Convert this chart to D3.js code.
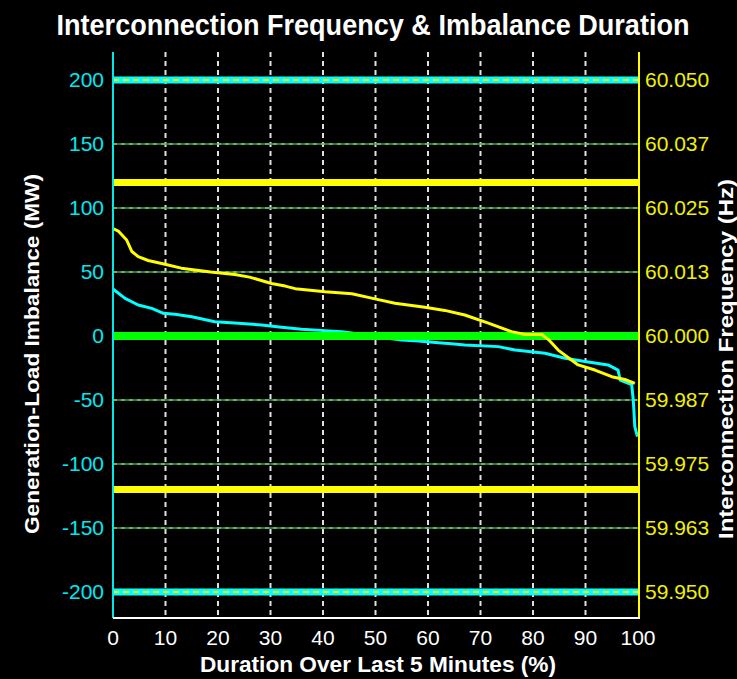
<!DOCTYPE html>
<html><head><meta charset="utf-8">
<script src="https://cdn.jsdelivr.net/npm/d3@7"></script>
<style>html,body{margin:0;padding:0;background:#000;}svg{display:block;}</style>
</head><body>
<script>
// ---- data ----
const xTicks = [0,10,20,30,40,50,60,70,80,90,100];
const mwTicks = [200,150,100,50,0,-50,-100,-150,-200];
const hzTickLabels = ["60.050","60.037","60.025","60.013","60.000","59.987","59.975","59.963","59.950"];
const hzLimits = [60.030, 59.970];
const mwLimits = [200, -200];

// Imbalance duration curve (MW) vs duration (%)
const imbPct = [0,2.3,4.8,7.4,9.6,11.8,15,19.4,23.9,28.3,32.1,35.9,40.4,43.6,48,52,55,58.2,62,64.5,67,73.4,76.6,82.3,86.1,89.9,94.3,96.2,96.6,98.8,99.1,99.4,99.9];
const imbMW  = [36.7,29.4,24.2,21.6,17.7,17,15,11.2,9.9,8.6,6.8,5.2,4.2,3.4,1,-1.5,-3.1,-3.9,-5.2,-6,-7,-8.3,-11,-13.5,-17.4,-20,-22.6,-26.6,-34.4,-38,-50,-71,-78.7];

// Frequency duration curve (Hz) vs duration (%)
const freqPct = [0,1,2.6,3.6,4.8,6.7,9.9,13,18.6,23.2,26,30.2,32.8,34.7,40.4,45.5,49.9,53.7,59.4,63.2,67,71.5,75.9,78.5,81.7,83,84.8,88.6,91.8,95,97.5,99.4];
const freqHz  = [60.0210,60.0205,60.01875,60.0165,60.0155,60.01475,60.0140,60.01325,60.0125,60.0120,60.0115,60.01025,60.00975,60.00925,60.00865,60.00825,60.00725,60.00638,60.0056,60.0050,60.0041,60.0025,60.00085,60.0003,60.0003,59.99925,59.99725,59.99435,59.99335,59.99205,59.9915,59.99075];

// ---- layout ----
const W = 737, H = 679;
const x = d3.scaleLinear().domain([0,100]).range([113,638]);
const y = d3.scaleLinear().domain([-200,200]).range([592,80]);
const yHz = d3.scaleLinear().domain([59.95,60.05]).range([592,80]);
const plotTop = 52, plotBottom = 618;

const svg = d3.select("body").append("svg").attr("width",W).attr("height",H)
  .style("background","#000");
const font = "Arial, 'Liberation Sans', sans-serif";

// title
svg.append("text").attr("x",373).attr("y",35).attr("text-anchor","middle")
  .attr("fill","#fff").attr("font-family",font).attr("font-weight","bold")
  .attr("font-size",29).attr("textLength",633).attr("lengthAdjust","spacingAndGlyphs")
  .text("Interconnection Frequency & Imbalance Duration");

// vertical dashed gridlines
svg.append("g").selectAll("line").data(xTicks.filter(d=>d>0&&d<100)).join("line")
  .attr("x1",d=>x(d)).attr("x2",d=>x(d)).attr("y1",plotTop).attr("y2",plotBottom)
  .attr("stroke","#e0e0e0").attr("stroke-width",2).attr("stroke-dasharray","5,4");

// horizontal thin gridlines (cyan with yellow dashes)
const hg = mwTicks.filter(d=>Math.abs(d)!==200 && d!==0);
svg.append("g").selectAll("line").data(hg).join("line")
  .attr("x1",x(0)).attr("x2",x(100)).attr("y1",d=>y(d)).attr("y2",d=>y(d))
  .attr("stroke","#00a8b0").attr("stroke-width",1.6);
svg.append("g").selectAll("line").data(hg).join("line")
  .attr("x1",x(0)).attr("x2",x(100)).attr("y1",d=>y(d)).attr("y2",d=>y(d))
  .attr("stroke","#c8b400").attr("stroke-width",1.6).attr("stroke-dasharray","4,4");

// ±200 MW limit bands
svg.append("g").selectAll("line").data(mwLimits).join("line")
  .attr("x1",x(0)).attr("x2",x(100)).attr("y1",d=>y(d)).attr("y2",d=>y(d))
  .attr("stroke","#00ffff").attr("stroke-width",7);
svg.append("g").selectAll("line").data(mwLimits).join("line")
  .attr("x1",x(0)).attr("x2",x(100)).attr("y1",d=>y(d)).attr("y2",d=>y(d))
  .attr("stroke","#ffff00").attr("stroke-width",2).attr("stroke-dasharray","6,4");

// frequency limit lines
svg.append("g").selectAll("line").data(hzLimits).join("line")
  .attr("x1",x(0)).attr("x2",x(100)).attr("y1",d=>yHz(d)).attr("y2",d=>yHz(d))
  .attr("stroke","#ffff00").attr("stroke-width",7);

// imbalance line (cyan)
const imb = imbPct.map((p,i)=>[p,imbMW[i]]);
svg.append("path").datum(imb)
  .attr("d",d3.line().x(d=>x(d[0])).y(d=>y(d[1])))
  .attr("fill","none").attr("stroke","#00ffff").attr("stroke-width",3).attr("stroke-linejoin","round");

// zero line (green)
svg.append("line").attr("x1",x(0)).attr("x2",x(100)).attr("y1",y(0)).attr("y2",y(0))
  .attr("stroke","#00ff00").attr("stroke-width",8);

// frequency line (yellow)
const fr = freqPct.map((p,i)=>[p,freqHz[i]]);
svg.append("path").datum(fr)
  .attr("d",d3.line().x(d=>x(d[0])).y(d=>yHz(d[1])))
  .attr("fill","none").attr("stroke","#ffff00").attr("stroke-width",3).attr("stroke-linejoin","round");

// axis lines
svg.append("line").attr("x1",x(0)).attr("x2",x(0)).attr("y1",plotTop).attr("y2",plotBottom)
  .attr("stroke","#00e8e8").attr("stroke-width",2);
svg.append("line").attr("x1",x(100)+1).attr("x2",x(100)+1).attr("y1",plotTop).attr("y2",plotBottom)
  .attr("stroke","#ffff00").attr("stroke-width",2);
svg.append("line").attr("x1",x(0)).attr("x2",x(100)+2).attr("y1",plotBottom).attr("y2",plotBottom)
  .attr("stroke","#ffffff").attr("stroke-width",2);

// left tick labels
svg.append("g").selectAll("text").data(mwTicks).join("text")
  .attr("x",104).attr("y",d=>y(d)).attr("dy","0.35em").attr("text-anchor","end")
  .attr("fill","#00e8f0").attr("font-family",font).attr("font-size",21)
  .text(d=>d);
// right tick labels
svg.append("g").selectAll("text").data(mwTicks).join("text")
  .attr("x",645).attr("y",d=>y(d)).attr("dy","0.35em").attr("text-anchor","start")
  .attr("fill","#f0f000").attr("font-family",font).attr("font-size",21)
  .text((d,i)=>hzTickLabels[i]);
// bottom tick labels
svg.append("g").selectAll("text").data(xTicks).join("text")
  .attr("x",d=>x(d)).attr("y",645).attr("text-anchor","middle")
  .attr("fill","#fff").attr("font-family",font).attr("font-size",21)
  .text(d=>d);

// axis titles
svg.append("text").attr("x",378).attr("y",672).attr("text-anchor","middle")
  .attr("fill","#fff").attr("font-family",font).attr("font-weight","bold")
  .attr("font-size",22).attr("textLength",356).attr("lengthAdjust","spacingAndGlyphs")
  .text("Duration Over Last 5 Minutes (%)");
svg.append("text").attr("transform","translate(39,354) rotate(-90)").attr("text-anchor","middle")
  .attr("fill","#fff").attr("font-family",font).attr("font-weight","bold")
  .attr("font-size",20).attr("textLength",360).attr("lengthAdjust","spacingAndGlyphs")
  .text("Generation-Load Imbalance (MW)");
svg.append("text").attr("transform","translate(733,359) rotate(-90)").attr("text-anchor","middle")
  .attr("fill","#fff").attr("font-family",font).attr("font-weight","bold")
  .attr("font-size",20).attr("textLength",360).attr("lengthAdjust","spacingAndGlyphs")
  .text("Interconnection Frequency (Hz)");
</script>
</body></html>
